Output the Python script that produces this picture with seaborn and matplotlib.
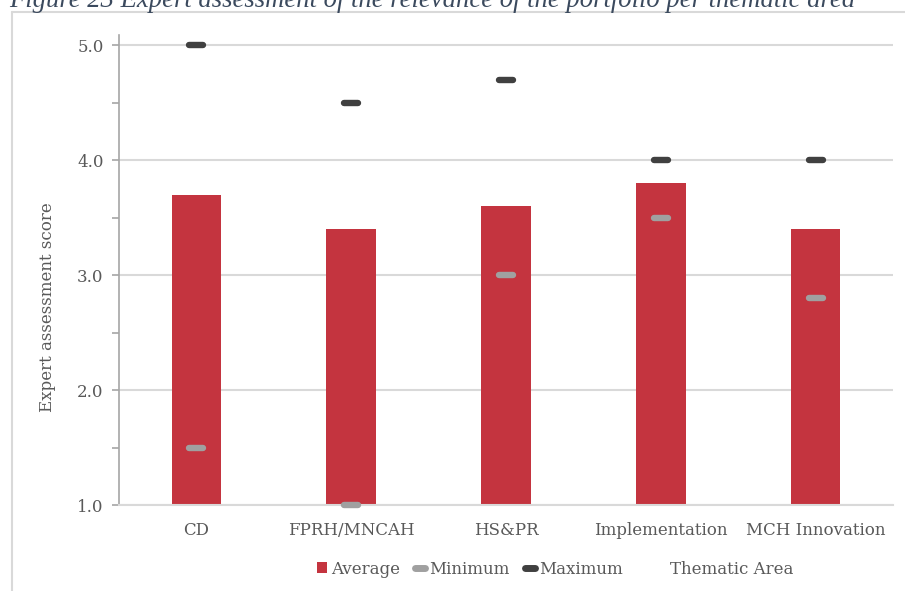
import numpy as np
import pandas as pd
import matplotlib
matplotlib.use("Agg")
import matplotlib.pyplot as plt
from matplotlib.markers import MarkerStyle
from matplotlib.lines import Line2D
from matplotlib.patches import Patch
import seaborn as sns

categories = ["CD", "FPRH/MNCAH", "HS&PR", "Implementation", "MCH Innovation"]
average = [3.7, 3.4, 3.6, 3.8, 3.4]
minimum = [1.5, 1.0, 3.0, 3.5, 2.8]
maximum = [5.0, 4.5, 4.7, 4.0, 4.0]
yticks = [1.0, 2.0, 3.0, 4.0, 5.0]

sns.set_theme(style="white")
plt.rcParams["font.family"] = ["DejaVu Serif"]

TXT = "#595959"
RED = "#C4343F"
GRAY = "#A0A0A0"
DARK = "#404040"
FS = 12

fig = plt.figure(figsize=(9.05, 5.91), dpi=100)
ax = fig.add_axes([119 / 905, 1 - 505 / 591, (893 - 119) / 905, (505 - 35) / 591])

df = pd.DataFrame({"cat": categories, "avg": average, "mn": minimum, "mx": maximum})
base = 1.0
sns.barplot(data=df.assign(h=df["avg"] - base), x="cat", y="h", bottom=base,
            color=RED, saturation=1, width=0.32, ax=ax, zorder=2)
for p in ax.patches:
    p.set_edgecolor("none")

xs = np.arange(len(categories))
mk = MarkerStyle("_", capstyle="round")
ax.plot(xs, df["mn"], ls="none", marker=mk, ms=10, mew=4.6, color=GRAY, zorder=4, clip_on=False)
ax.plot(xs, df["mx"], ls="none", marker=mk, ms=10, mew=4.6, color=DARK, zorder=4, clip_on=False)

ax.set_xlim(-0.5, len(categories) - 0.5)
ax.set_ylim(1.0, 5.09)
ax.set_yticks(yticks)
ax.set_yticklabels([f"{v:.1f}" for v in yticks])
ax.set_yticks(np.arange(1.5, 5.0, 1.0), minor=True)
ax.yaxis.grid(True, which="major", color="#D9D9D9", lw=1.5, zorder=0)
ax.set_axisbelow(True)

for s in ["top", "right"]:
    ax.spines[s].set_visible(False)
ax.spines["left"].set_color("#A6A6A6")
ax.spines["left"].set_linewidth(1.2)
ax.spines["bottom"].set_color("#D9D9D9")
ax.spines["bottom"].set_linewidth(1.5)

ax.tick_params(axis="y", which="major", length=5, width=1.2, color="#A6A6A6",
               labelsize=FS, labelcolor=TXT, pad=6, left=True)
ax.tick_params(axis="y", which="minor", length=5, width=1.2, color="#A6A6A6", left=True)
ax.tick_params(axis="x", length=0, labelsize=FS, labelcolor=TXT, pad=12)

ax.set_xlabel("")
ax.set_ylabel("Expert assessment score", fontsize=FS, color=TXT)
ax.yaxis.set_label_coords(-0.082, 0.42)

fig.text(732 / 905, 1 - 569 / 591, "Thematic Area", fontsize=FS, color=TXT,
         ha="center", va="center")

handles = [
    Patch(facecolor=RED, edgecolor="none", label="Average"),
    Line2D([0], [0], color=GRAY, lw=5, solid_capstyle="round", label="Minimum"),
    Line2D([0], [0], color=DARK, lw=5, solid_capstyle="round", label="Maximum"),
]
leg = fig.legend(handles=handles, loc="center", bbox_to_anchor=(470 / 905, 1 - 569 / 591),
                 ncol=3, frameon=False, fontsize=FS, handlelength=0.6, handleheight=0.65,
                 handletextpad=0.25, columnspacing=0.9, labelcolor=TXT)

# outer frame lines (left and top) and cropped title
fig.add_artist(Line2D([12 / 905, 12 / 905], [0, 1 - 12 / 591], transform=fig.transFigure,
                      color="#D9D9D9", lw=1.5))
fig.add_artist(Line2D([12 / 905, 1], [1 - 12 / 591, 1 - 12 / 591], transform=fig.transFigure,
                      color="#D9D9D9", lw=1.5))
fig.text(9 / 905, 1 - 7 / 591,
         "Figure 23 Expert assessment of the relevance of the portfolio per thematic area",
         fontsize=19.2, style="italic", color="#3B4A5E", ha="left", va="baseline",
         family="Liberation Serif")

fig.savefig("out.png", dpi=100)
